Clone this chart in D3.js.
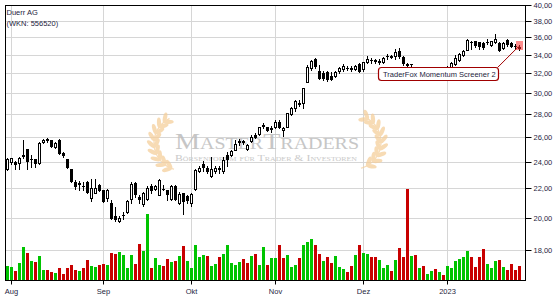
<!DOCTYPE html>
<html><head><meta charset="utf-8">
<script src="https://cdn.jsdelivr.net/npm/d3@7"></script>
<style>body{margin:0;background:#fff}svg{display:block}</style>
</head><body>
<svg id="c" width="555" height="300"></svg>
<script>
// ---- data ----
const title = "Duerr AG";
const subtitle = "(WKN: 556520)";
const opens = [
 23.4,24.0,24.0,23.9,24.5,25.0,24.25,24.2,23.9,25.6,
 25.85,25.8,25.2,25.8,24.7,24.2,23.4,22.45,22.4,22.2,
 22.45,21.35,21.7,22.25,21.85,21.35,20.95,20.1,19.75,20.15,
 20.35,21.25,22.4,21.4,20.9,21.25,22.2,21.95,21.55,21.95,
 21.85,21.25,22.2,20.95,21.65,21.45,21.0,21.95,23.3,23.8,
 23.55,22.9,23.25,23.5,23.25,24.55,24.5,24.95,25.6,25.65,
 25.05,25.65,26.2,26.25,26.95,26.85,26.7,26.9,27.35,26.6,
 26.9,28.0,28.55,29.1,29.05,31.15,32.6,33.55,32.25,32.05,
 32.1,31.7,31.7,32.25,32.45,32.6,32.6,32.45,33.0,32.45,
 33.2,33.45,33.4,33.25,33.2,33.85,33.75,33.9,34.45,33.8,
 33.05,32.95,32.6,32.3,32.5,32.2,32.3,32.5,32.2,32.35,
 32.3,32.4,33.05,33.4,33.95,34.55,35.45,35.55,35.45,35.3,
 35.5,35.15,35.4,35.35,34.8,35.65,35.35,35.0,34.85];
const highs = [
 24.3,24.3,24.05,24.35,25.8,25.0,24.5,24.2,25.55,25.85,
 25.9,25.8,25.6,25.85,24.8,24.25,23.45,22.6,22.5,22.45,
 22.5,22.7,22.7,22.3,21.9,21.95,21.2,20.7,20.1,20.35,
 21.2,22.45,22.45,21.5,21.75,22.15,22.3,22.25,22.65,22.25,
 21.9,22.25,22.25,21.75,21.7,21.55,21.7,23.4,23.7,24.05,
 23.7,24.35,23.7,23.65,24.35,24.75,24.95,25.75,25.85,25.8,
 25.4,26.15,26.35,26.9,27.2,26.9,27.0,27.5,27.5,26.9,
 28.15,28.7,29.3,29.3,30.55,32.9,33.45,33.65,32.85,32.25,
 32.25,32.2,32.3,32.7,32.95,32.8,32.8,32.9,33.1,33.25,
 33.9,33.6,33.55,33.5,33.75,34.1,34.0,34.7,34.8,33.85,
 33.1,33.05,32.65,32.6,32.6,32.5,32.6,32.55,32.5,32.45,
 32.8,33.2,34.0,34.2,34.5,35.75,35.6,35.6,35.5,35.5,
 35.75,35.6,36.35,35.4,35.45,35.75,35.45,35.25,35.1];
const lows = [
 23.35,23.8,23.4,23.45,24.3,23.4,23.6,23.6,23.8,25.5,
 25.6,25.2,25.1,24.6,24.4,23.55,22.45,21.95,21.9,21.85,
 21.65,21.1,21.7,21.8,21.05,21.1,19.9,19.8,19.7,19.9,
 20.3,21.0,21.4,20.95,20.8,21.2,21.7,21.9,21.5,21.85,
 21.2,21.2,21.2,20.9,20.25,21.0,20.8,21.9,23.2,23.3,
 23.1,22.85,23.15,23.1,23.1,23.7,24.45,24.9,25.35,25.45,
 24.95,25.6,25.9,26.2,26.75,26.55,26.4,26.75,26.8,26.1,
 26.85,27.95,28.35,28.75,28.6,31.1,32.4,32.6,31.4,31.3,
 31.25,31.3,31.6,32.05,32.3,32.35,32.25,32.35,32.2,32.3,
 33.1,33.1,33.1,33.05,33.1,33.55,33.6,33.55,33.7,32.9,
 32.4,32.5,32.1,32.2,32.0,32.0,32.2,32.0,32.1,32.0,
 32.2,32.3,32.85,33.3,33.85,34.5,34.7,34.9,34.7,34.7,
 35.2,34.95,35.35,34.4,34.7,35.0,34.85,34.7,34.5];
const closes = [
 24.2,24.3,23.8,24.3,24.45,24.05,24.2,23.9,25.5,25.8,
 25.75,25.3,25.5,24.65,24.5,23.6,22.55,22.2,22.35,22.2,
 21.75,22.0,22.05,21.9,21.1,21.9,20.0,19.9,20.0,20.2,
 21.1,22.3,21.6,21.25,21.65,22.05,21.85,22.2,22.6,21.93,
 21.6,22.15,21.25,21.6,21.1,21.2,21.6,23.35,23.55,23.6,
 23.3,23.45,23.55,23.4,24.15,24.25,24.85,25.45,25.65,25.55,
 25.35,26.05,26.0,26.85,27.05,26.65,26.75,27.3,26.9,26.8,
 28.1,28.55,29.25,28.95,30.5,32.7,33.3,32.75,31.5,31.55,
 31.45,31.42,32.15,32.6,32.8,32.6,32.45,32.8,32.25,33.2,
 33.5,33.45,33.3,33.35,33.7,33.9,33.85,34.3,33.85,33.15,
 32.9,33.0,32.3,32.55,32.2,32.35,32.5,32.2,32.35,32.25,
 32.6,33.1,33.6,34.05,34.4,35.65,35.5,35.15,34.95,34.85,
 35.45,35.55,35.75,34.5,35.35,35.25,35.0,34.95,34.75];
const volumes = [
 140,130,90,170,330,270,190,180,240,100,
 100,80,70,120,60,120,150,100,90,120,
 200,140,130,150,160,150,270,260,280,250,
 120,250,160,360,290,660,120,220,150,140,
 210,180,190,240,340,190,120,350,230,250,
 240,140,160,230,260,350,170,150,180,210,
 170,240,260,150,330,150,220,220,350,220,
 250,130,150,220,350,380,410,350,260,190,
 230,170,240,130,110,80,140,250,350,270,
 260,230,230,200,120,150,90,200,320,230,
 910,240,250,120,140,60,90,110,80,50,
 140,120,190,210,230,290,230,130,230,310,
 160,120,190,200,130,100,160,100,140];
const monthTickIndex = [1, 24, 46, 67, 89, 110];
const monthTickLabels = ["Aug", "Sep", "Okt", "Nov", "Dez", "2023"];
const priceTicks = [18, 20, 22, 24, 26, 28, 30, 32, 34, 36, 38, 40];
const signalIndex = 128;
const signalLabel = "TraderFox Momentum Screener 2";
const logoTitle = "MasterTraders";
const logoSub = "Börsenforum für Trader & Investoren";

// ---- layout ----
const L = 5, R = 525, T = 5, B = 280;
const svg = d3.select("#c");
const n = closes.length;
const x = d3.scaleLinear().domain([0, n - 1]).range([7.5, 519.5]);
const y = d3.scaleLog().domain([16.32, 40]).range([B, T]);
const yv = d3.scaleLinear().domain([0, 1000]).range([B, B - 100]);
const font = "'Liberation Sans', Arial, sans-serif";
const txtCol = "#1e2440";
const crisp = v => Math.round(v) + 0.5;

svg.append("rect").attr("width", 555).attr("height", 300).attr("fill", "#fff");

// grid
const grid = svg.append("g").attr("stroke", "#d6d6d6").attr("stroke-width", 1);
grid.selectAll("line.h").data(priceTicks).join("line")
  .attr("x1", L).attr("x2", R).attr("y1", d => crisp(y(d))).attr("y2", d => crisp(y(d)));
grid.selectAll("line.v").data(monthTickIndex).join("line")
  .attr("y1", T).attr("y2", B).attr("x1", d => x(d)).attr("x2", d => x(d));

// watermark
const wm = svg.append("g");
function wreath(cx, cy, r, a0, a1, mirror) {
  const g = wm.append("g").attr("fill", "#f5cf9c").attr("opacity", 0.75);
  const arc = d3.range(a0, a1 + 0.01, 2).map(a => [cx + r * Math.cos(a * Math.PI / 180), cy + r * Math.sin(a * Math.PI / 180)]);
  g.append("path").attr("d", d3.line()(arc)).attr("fill", "none").attr("stroke", "#f5cf9c").attr("stroke-width", 1.3);
  for (let a = a0 + 6; a <= a1; a += 15) {
    const rad = a * Math.PI / 180;
    const px = cx + r * Math.cos(rad), py = cy + r * Math.sin(rad);
    const tang = a + (mirror ? -90 : 90);
    [-38, 38].forEach(off => {
      const ang = tang + off;
      const ar = ang * Math.PI / 180;
      const ex = px + 4.5 * Math.cos(ar), ey = py + 4.5 * Math.sin(ar);
      g.append("ellipse").attr("cx", ex).attr("cy", ey).attr("rx", 5.2).attr("ry", 2.1)
        .attr("transform", `rotate(${ang},${ex},${ey})`);
    });
  }
}
wreath(181, 143, 27, 105, 245, false);
wreath(354, 142, 27, -65, 75, true);
wm.append("text").attr("x", 175).attr("y", 148.5).text(logoTitle)
  .attr("font-family", "'Liberation Serif', 'DejaVu Serif', serif").attr("font-size", 24)
  .attr("font-variant", "small-caps").attr("fill", "#bdbdbd").attr("opacity", 0.85)
  .attr("textLength", 184).attr("lengthAdjust", "spacingAndGlyphs");
wm.append("text").attr("x", 175).attr("y", 160.5).text(logoSub)
  .attr("font-family", "'Liberation Serif', 'DejaVu Serif', serif").attr("font-size", 9)
  .attr("font-variant", "small-caps").attr("fill", "#c4c4c4").attr("opacity", 0.9)
  .attr("textLength", 182).attr("lengthAdjust", "spacingAndGlyphs");

// volume
svg.append("g").selectAll("rect").data(volumes).join("rect")
  .attr("x", (d, i) => x(i) - 1.5).attr("width", 3)
  .attr("y", d => Math.round(yv(d))).attr("height", d => B - Math.round(yv(d)))
  .attr("fill", (d, i) => (i === 0 ? closes[0] >= opens[0] : closes[i] >= closes[i - 1]) ? "#00c400" : "#c80000");

// candles
const cg = svg.append("g");
closes.forEach((c, i) => {
  const cx = x(i);
  cg.append("line").attr("x1", cx).attr("x2", cx)
    .attr("y1", Math.round(y(highs[i]))).attr("y2", Math.round(y(lows[i])) + 1)
    .attr("stroke", "#000").attr("stroke-width", 1);
  const t = Math.round(y(Math.max(opens[i], c))), b = Math.round(y(Math.min(opens[i], c)));
  if (b - t < 1) {
    cg.append("line").attr("x1", cx - 1.5).attr("x2", cx + 1.5).attr("y1", t + 0.5).attr("y2", t + 0.5)
      .attr("stroke", "#000");
  } else {
    cg.append("rect").attr("x", cx - 1).attr("width", 2).attr("y", t + 0.5).attr("height", b - t)
      .attr("fill", c >= opens[i] ? "#fff" : "#000").attr("stroke", "#000").attr("stroke-width", 1);
  }
});

// frame & axes
svg.append("rect").attr("x", L + 0.5).attr("y", T + 0.5).attr("width", R - L).attr("height", B - T)
  .attr("fill", "none").attr("stroke", "#000");
const ya = svg.append("g").attr("transform", `translate(${R + 0.5},0)`)
  .call(d3.axisRight(y).tickValues(priceTicks).tickSize(6).tickSizeOuter(0).offset(0)
    .tickFormat(d => d.toFixed(2).replace(".", ",")));
ya.select(".domain").remove();
ya.selectAll(".tick").attr("transform", d => `translate(0,${crisp(y(d))})`);
ya.selectAll("line").attr("stroke", "#000");
ya.selectAll("text").attr("x", 8).attr("font-family", font).attr("font-size", 7.5).attr("fill", txtCol);

const xa = svg.append("g").attr("transform", `translate(0,${B + 0.5})`)
  .call(d3.axisBottom(x).tickValues(monthTickIndex).tickSize(4).tickSizeOuter(0).offset(0)
    .tickFormat((d, i) => monthTickLabels[i]));
xa.select(".domain").remove();
xa.selectAll("line").attr("stroke", "#000");
xa.selectAll("text").attr("y", 8).attr("font-family", font).attr("font-size", 7.5).attr("fill", txtCol);

// title
svg.append("text").attr("x", 6.5).attr("y", 15).text(title)
  .attr("font-family", font).attr("font-size", 7.5).attr("fill", txtCol);
svg.append("text").attr("x", 6.5).attr("y", 25.5).text(subtitle)
  .attr("font-family", font).attr("font-size", 7.5).attr("fill", txtCol);

// signal annotation
const mx = x(signalIndex), my = y(highs[signalIndex]);
const bx1 = mx - 22, by0 = my + 21.5;
svg.append("line").attr("x1", bx1).attr("y1", by0 + 1).attr("x2", mx - 1).attr("y2", my + 1.5)
  .attr("stroke", "#a00000").attr("stroke-width", 1);
svg.append("rect").attr("x", Math.round(mx - 3.5)).attr("y", Math.round(my - 4.5)).attr("width", 7).attr("height", 9)
  .attr("fill", "#ff3030").attr("opacity", 0.55);
svg.append("rect").attr("x", Math.round(bx1 - 120) + 0.5).attr("y", Math.round(by0) + 0.5)
  .attr("width", 120).attr("height", 13).attr("rx", 3)
  .attr("fill", "#fff").attr("stroke", "#a00000").attr("stroke-width", 1.2);
svg.append("text").attr("x", Math.round(bx1 - 120) + 5).attr("y", Math.round(by0) + 10)
  .text(signalLabel).attr("font-family", font).attr("font-size", 7.5).attr("fill", txtCol);
</script>
</body></html>
